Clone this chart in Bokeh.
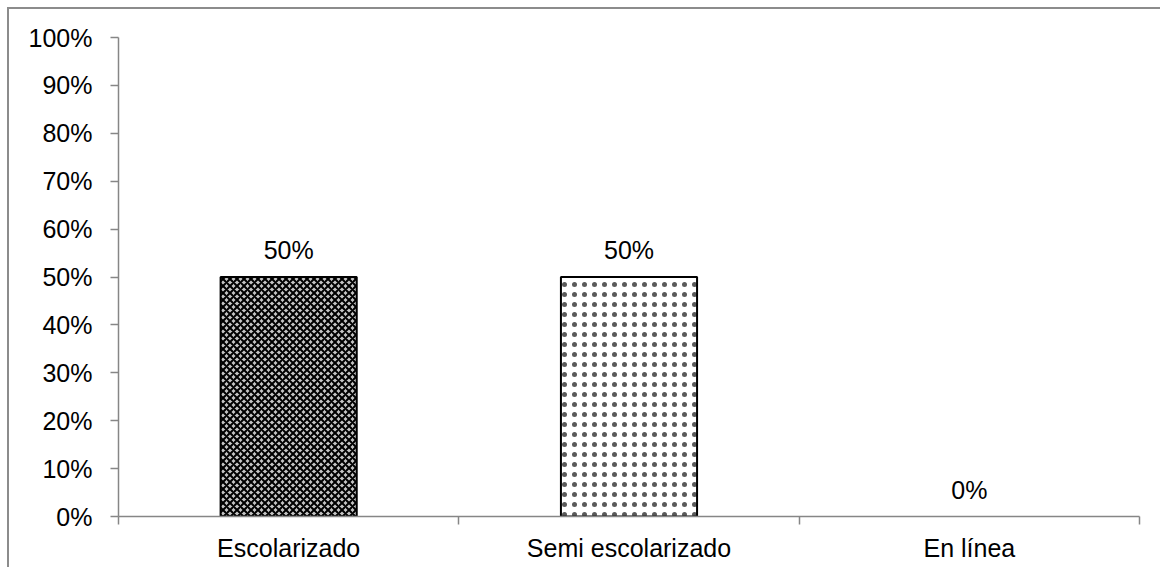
from bokeh.plotting import figure
from bokeh.models import ColumnDataSource, FixedTicker, Range1d
from bokeh.core.properties import value
from bokeh.embed import file_html
from bokeh.resources import INLINE

# Data
categories = ["Escolarizado", "Semi escolarizado", "En línea"]
shares = [0.50, 0.50, 0.00]
value_labels = ["50%", "50%", "0%"]
y_ticks = [i / 10 for i in range(11)]
y_tick_labels = [f"{i * 10}%" for i in range(11)]

FONT = "Liberation Sans"
FS = "25px"
AXIS_GRAY = "#868686"

positions = [i + 0.5 for i in range(len(categories))]
source = ColumnDataSource(dict(
    x=positions,
    top=shares,
    label=value_labels,
    fill=["#c4c4c4", "white", "white"],
    outline=["black" if s > 0 else None for s in shares],
    hatch=["diagonal_cross", "dot", "dot"],
    hatch_color=["black", "#5a5a5a", "#5a5a5a"],
    hatch_scale=[7.0, 10.0, 10.0],
    hatch_weight=[2.0, 1.6, 1.6],
))

p = figure(
    frame_width=1021, frame_height=479,
    min_border_left=109, min_border_top=28,
    min_border_right=21, min_border_bottom=51,
    x_range=Range1d(0, len(categories)), y_range=Range1d(0, 1),
    output_backend="svg", toolbar_location=None,
)
p.margin = (7, 0, 0, 7)
p.styles = {"border-top": "2px solid #8c8c8c", "border-left": "2px solid #8c8c8c"}

p.vbar(x="x", top="top", width=0.40, bottom=0, source=source,
       fill_color="fill", line_color="outline", line_width=2,
       hatch_pattern="hatch", hatch_color="hatch_color",
       hatch_scale="hatch_scale", hatch_weight="hatch_weight")

p.text(x="x", y="top", text="label", source=source,
       text_align="center", text_baseline="bottom", y_offset=-13,
       text_font=value(FONT), text_font_size=FS, text_color="black")

p.grid.visible = False
p.outline_line_color = None
p.background_fill_color = "white"
p.border_fill_color = "white"

# Y axis
p.yaxis.ticker = FixedTicker(ticks=y_ticks, minor_ticks=[])
p.yaxis.major_label_overrides = dict(zip(y_ticks, y_tick_labels))
p.yaxis.axis_line_color = AXIS_GRAY
p.yaxis.axis_line_width = 1.5
p.yaxis.major_tick_line_color = AXIS_GRAY
p.yaxis.major_tick_line_width = 1.5
p.yaxis.major_tick_out = 8
p.yaxis.major_tick_in = 0
p.yaxis.major_label_standoff = 18
p.yaxis.major_label_text_font = FONT
p.yaxis.major_label_text_font_size = FS
p.yaxis.major_label_text_color = "black"

# X axis: category names centred, tick marks on category boundaries
p.xaxis.ticker = FixedTicker(ticks=positions, minor_ticks=list(range(len(categories) + 1)))
p.xaxis.major_label_overrides = dict(zip(positions, categories))
p.xaxis.axis_line_color = AXIS_GRAY
p.xaxis.axis_line_width = 1.5
p.xaxis.major_tick_out = 0
p.xaxis.major_tick_in = 0
p.xaxis.minor_tick_line_color = AXIS_GRAY
p.xaxis.minor_tick_line_width = 1.5
p.xaxis.minor_tick_out = 8
p.xaxis.minor_tick_in = 0
p.xaxis.major_label_standoff = 9
p.xaxis.major_label_text_font = FONT
p.xaxis.major_label_text_font_size = FS
p.xaxis.major_label_text_color = "black"

open("out.html", "w").write(file_html(p, INLINE))
